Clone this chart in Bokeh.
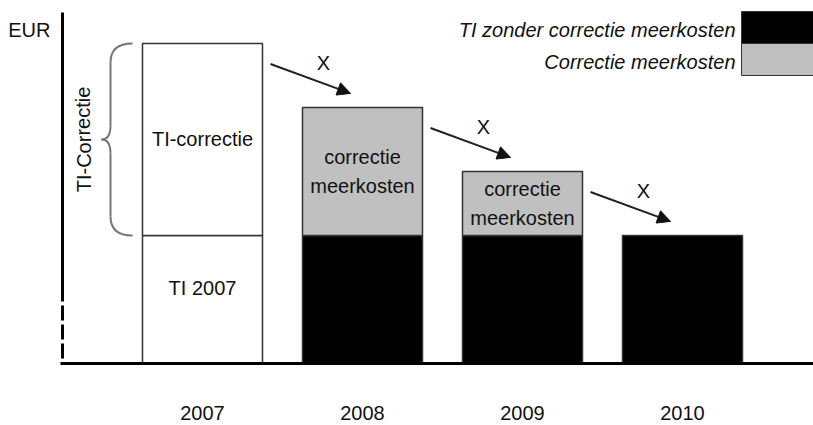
from bokeh.plotting import figure
from bokeh.models import Range1d, FixedTicker, Arrow, NormalHead
from bokeh.core.properties import value
from bokeh.embed import file_html
from bokeh.resources import INLINE

# ---- data ----
years = ["2007", "2008", "2009", "2010"]
ti_base = [100, 100, 100, 100]
correctie = [150, 100, 50, 0]
base_colors = ["white", "black", "black", "black"]
corr_colors = ["white", "#c0c0c0", "#c0c0c0", "#c0c0c0"]
legend_labels = ["TI zonder correctie meerkosten", "Correctie meerkosten"]
legend_colors = ["black", "#c0c0c0"]

FONT = value("Liberation Sans")
PXX = 160.0   # pixels per x unit
PXY = 1.28    # pixels per y unit

xs = list(range(len(years)))
totals = [b + c for b, c in zip(ti_base, correctie)]
BW = 0.75

p = figure(width=813, height=425, output_backend="svg", toolbar_location=None,
           x_range=Range1d(-1.2625, 3.81875), y_range=Range1d(-1.5625, 283.59),
           y_axis_location=None, min_border_left=0, min_border_right=0,
           min_border_top=0, min_border_bottom=60)
p.outline_line_color = None
p.grid.visible = False
p.background_fill_color = "white"
p.border_fill_color = "white"

# x axis (labels only; line drawn below)
ax = p.xaxis[0]
ax.ticker = FixedTicker(ticks=xs)
ax.major_label_overrides = {i: y for i, y in zip(xs, years)}
ax.axis_line_color = None
ax.major_tick_line_color = None
ax.minor_tick_line_color = None
ax.major_label_standoff = 34
ax.major_label_text_font = "Liberation Sans"
ax.major_label_text_font_size = "20px"
ax.major_label_text_color = "#111111"

# bars
p.vbar(x=xs, bottom=0, top=ti_base, width=BW, fill_color=base_colors,
       line_color="#333333", line_width=1.5)
cx = [x for x, c in zip(xs, correctie) if c > 0]
cb = [b for b, c in zip(ti_base, correctie) if c > 0]
ct = [t for t, c in zip(totals, correctie) if c > 0]
cc = [col for col, c in zip(corr_colors, correctie) if c > 0]
p.vbar(x=cx, bottom=cb, top=ct, width=BW, fill_color=cc,
       line_color="#333333", line_width=1.5)

txt = dict(text_font=FONT, text_font_size="20px", text_align="center",
           text_baseline="middle", text_color="#111111")

# labels in bars
p.text(x=[xs[0]], y=[ti_base[0] + correctie[0] / 2], text=["TI-correctie"], **txt)
p.text(x=[xs[0]], y=[ti_base[0] / 2], text=["TI " + years[0]], y_offset=-11, **txt)
for i in (1, 2):
    p.text(x=[xs[i]], y=[ti_base[i] + correctie[i] / 2], text=["correctie\nmeerkosten"],
           text_line_height=1.3, **txt)

# arrows with X
for i in range(len(xs) - 1):
    p.add_layout(Arrow(end=NormalHead(size=13, fill_color="#111111", line_color="#111111"),
                       x_start=xs[i] + 0.425, y_start=totals[i] - 16,
                       x_end=xs[i] + 0.925, y_end=totals[i + 1] + 11,
                       line_width=2, line_color="#222222"))
    p.text(x=[xs[i] + 0.756], y=[totals[i] - 15.5], text=["X"], **txt)

# axes lines
yax_x = xs[0] - 0.875
p.segment(x0=[yax_x], y0=[274.2], x1=[yax_x], y1=[48.4], line_color="black", line_width=3)
p.segment(x0=[yax_x], y0=[45.3], x1=[yax_x], y1=[0], line_color="black", line_width=3,
          line_dash="15 4")
p.segment(x0=[yax_x - 0.0125], y0=[0], x1=[4.0], y1=[0], line_color="black", line_width=3)

# EUR label
p.text(x=[yax_x - 12 / PXX], y=[260.5], text=["EUR"], text_font=FONT, text_font_size="20px",
       text_align="right", text_baseline="middle", text_color="#111111")

# brace
bl = xs[0] - BW / 2
xv = bl - 32 / PXX
xt = bl - 41 / PXX
xe = bl - 10 / PXX
top, bot = totals[0], ti_base[0]
mid = (top + bot) / 2
r = 19 / PXY
rt = 14 / PXY
bc = dict(line_color="#777777", line_width=2)
p.quadratic(x0=[xe], y0=[top], x1=[xv], y1=[top - r], cx=[xv], cy=[top], **bc)
p.segment(x0=[xv], y0=[top - r], x1=[xv], y1=[mid + rt], **bc)
p.quadratic(x0=[xv], y0=[mid + rt], x1=[xt], y1=[mid], cx=[xv], cy=[mid], **bc)
p.quadratic(x0=[xt], y0=[mid], x1=[xv], y1=[mid - rt], cx=[xv], cy=[mid], **bc)
p.segment(x0=[xv], y0=[mid - rt], x1=[xv], y1=[bot + r], **bc)
p.quadratic(x0=[xv], y0=[bot + r], x1=[xe], y1=[bot], cx=[xv], cy=[bot], **bc)
p.text(x=[bl - 59 / PXX], y=[mid], text=["TI-Correctie"], angle=1.5708, **txt)

# legend (text left, swatch right)
lg_left = xs[-1] + 0.369
lg_top = 275
lg_h = 32 / PXY
for k, (lab, col) in enumerate(zip(legend_labels, legend_colors)):
    t = lg_top - k * lg_h
    p.quad(left=[lg_left], right=[4.2], top=[t], bottom=[t - lg_h], fill_color=col,
           line_color="#333333", line_width=1)
    p.text(x=[lg_left - 6 / PXX], y=[t - lg_h / 2 - 3 / PXY], text=[lab], text_font=FONT,
           text_font_size="20px", text_font_style="italic", text_align="right",
           text_baseline="middle", text_color="#111111")

open("out.html", "w").write(file_html(p, INLINE))
